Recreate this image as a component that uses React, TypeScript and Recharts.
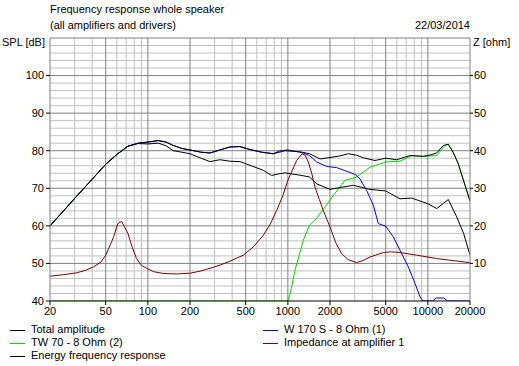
import React from "react";
import {
  LineChart,
  Line,
  XAxis,
  YAxis,
  ReferenceLine,
} from "recharts";

// frequency axis (Hz)
const freqTicks = [20, 50, 100, 200, 500, 1000, 2000, 5000, 10000, 20000];
const freqMinor = [30, 40, 60, 70, 80, 90, 300, 400, 600, 700, 800, 900, 3000, 4000, 6000, 7000, 8000, 9000];
const splTicks = [40, 50, 60, 70, 80, 90, 100];
const splMinor = [42, 44, 46, 48, 52, 54, 56, 58, 62, 64, 66, 68, 72, 74, 76, 78, 82, 84, 86, 88, 92, 94, 96, 98, 102, 104, 106, 108];
const ohmTicks = [10, 20, 30, 40, 50, 60];

// Total amplitude (dB)
const totalFreq = [20, 25, 30, 40, 50, 60, 72, 85, 100, 119, 135, 152, 175, 200, 240, 278, 327, 386, 455, 537, 650, 787, 955, 1222, 1429, 1697, 2000, 2350, 2704, 3100, 3459, 4190, 5000, 5990, 7450, 9290, 10500, 11560, 12900, 14000, 15200, 16500, 18000, 20000];
const totalDb = [60, 64, 67.3, 72.4, 76.4, 79, 81.2, 82, 82.3, 82.7, 82.3, 81.4, 80.6, 80.2, 79.6, 79.4, 80.2, 81, 81.1, 80.3, 79.6, 79.2, 80, 79.7, 79.2, 77.8, 78.2, 78.6, 79.2, 78.8, 78.1, 77.4, 78, 77.6, 78.7, 78.5, 78.9, 79.4, 81.4, 81.7, 79.5, 76.5, 72, 66.6];

// Energy frequency response (dB)
const energyFreq = [20, 25, 30, 40, 50, 60, 72, 85, 100, 119, 135, 152, 175, 200, 240, 278, 327, 386, 455, 537, 668, 766, 850, 955, 1260, 1429, 1607, 2000, 2357, 2936, 3860, 5000, 6325, 7660, 10000, 11560, 14000, 16070, 18000, 20000];
const energyDb = [60, 64, 67.3, 72.4, 76.4, 79, 81.2, 81.9, 81.8, 82, 81.3, 80, 79.6, 79.2, 78, 77.1, 77.6, 77.2, 77.1, 76.1, 74.8, 73.4, 73.8, 74.1, 73.4, 73, 71.2, 69.7, 70.2, 70.8, 69.7, 69.3, 67.2, 67.4, 65.9, 64.6, 67, 62.4, 58, 52.2];

// W 170 S - 8 Ohm (1) (dB)
const wooferFreq = [20, 25, 30, 40, 50, 60, 72, 85, 100, 119, 135, 152, 175, 200, 240, 278, 327, 386, 455, 537, 650, 787, 879, 1000, 1265, 1429, 1607, 1900, 2233, 2558, 3020, 3277, 3655, 4080, 4430, 5000, 5660, 6325, 7250, 8090, 8800, 9200, 10800, 11500, 13000, 13800, 20000];
const wooferDb = [60, 64, 67.3, 72.4, 76.4, 79, 81.2, 82, 82.3, 82.7, 82.3, 81.4, 80.6, 80.2, 79.6, 79.4, 80.2, 81, 81.1, 80.3, 79.6, 79.2, 80, 80.2, 79.5, 78.7, 77, 75.8, 75.5, 74.7, 73.7, 72.5, 69.4, 65.5, 60.6, 59.9, 57.1, 53.5, 49.1, 44.7, 41.1, 40, 40, 40.8, 40.8, 40, 40];

// TW 70 - 8 Ohm (2) (dB)
const tweeterFreq = [20, 1000, 1040, 1125, 1290, 1429, 1607, 1842, 2113, 2558, 3100, 3860, 5000, 6325, 7660, 9290, 11560, 13250, 14000, 15200, 16500, 18000, 20000];
const tweeterDb = [40, 40, 42, 48.2, 56.2, 60.2, 62, 65, 68.1, 72.1, 73, 75.6, 77, 77.2, 78.7, 78.5, 78.7, 81.4, 81.7, 79.5, 76.5, 72, 66.6];

// Impedance at amplifier 1 (ohm)
const impFreq = [20, 25, 31, 36, 41, 46, 50, 54, 57, 61, 65, 68, 72, 77, 83, 90, 98, 110, 130, 160, 200, 240, 278, 330, 386, 481, 570, 668, 750, 832, 920, 1000, 1156, 1265, 1330, 1400, 1480, 1563, 1680, 1791, 2000, 2200, 2421, 2700, 3100, 3450, 3860, 4810, 5500, 6325, 8320, 11560, 20000];
const impOhm = [6.6, 7, 7.5, 8.2, 9.1, 10.3, 12.2, 15, 17.1, 20.6, 21.2, 19.8, 18, 14.5, 11.3, 9.5, 8.7, 7.8, 7.3, 7.2, 7.4, 8, 8.7, 9.6, 10.6, 12.2, 14.5, 17.5, 20.5, 24.1, 28, 32.1, 37.4, 39.2, 38.8, 37, 34, 30.3, 27, 24.1, 19.7, 15.5, 12.6, 11, 10.2, 10.8, 11.7, 12.9, 13.1, 12.9, 12.2, 11.3, 10.2];

const toData = (fs: number[], vs: number[]) => fs.map((f, i) => ({ f, v: vs[i] }));

const FONT = '"Liberation Sans", Arial, sans-serif';
const txt: React.CSSProperties = {
  position: "absolute",
  fontFamily: FONT,
  fontSize: 11,
  lineHeight: "13px",
  color: "#000",
  whiteSpace: "nowrap",
};

const legendLeft = [
  { name: "Total amplitude", color: "#000000" },
  { name: "TW 70 - 8 Ohm (2)", color: "#00dd00" },
  { name: "Energy frequency response", color: "#000000" },
];
const legendRight = [
  { name: "W 170 S - 8 Ohm (1)", color: "#0000ff" },
  { name: "Impedance at amplifier 1", color: "#800000" },
];

const tickStyle = { fontFamily: FONT, fontSize: 11, fill: "#000" };

export default function App() {
  return (
    <div style={{ position: "absolute", left: 0, top: 0, width: 519, height: 366, background: "#fff" }}>
      <LineChart width={519} height={366} margin={{ top: 38, right: 0, left: 0, bottom: 45 }}>
        <XAxis
          dataKey="f"
          type="number"
          scale="log"
          domain={[20, 20000]}
          ticks={freqTicks}
          allowDataOverflow
          height={20}
          tickSize={4}
          tickMargin={2}
          tick={tickStyle}
          axisLine={{ stroke: "#000" }}
          tickLine={{ stroke: "#000" }}
          interval={0}
        />
        <YAxis
          yAxisId="spl"
          orientation="left"
          type="number"
          domain={[40, 110]}
          ticks={splTicks}
          allowDataOverflow
          width={50}
          tickSize={4}
          tickMargin={2}
          tick={tickStyle}
          axisLine={{ stroke: "#808080" }}
          tickLine={{ stroke: "#000" }}
          interval={0}
        />
        <YAxis
          yAxisId="ohm"
          orientation="right"
          type="number"
          domain={[0, 70]}
          ticks={ohmTicks}
          allowDataOverflow
          width={49}
          tickSize={3}
          tickMargin={1}
          tick={tickStyle}
          axisLine={{ stroke: "#808080" }}
          tickLine={{ stroke: "#000" }}
          interval={0}
        />
        {splMinor.map((y) => (
          <ReferenceLine key={"hm" + y} yAxisId="spl" y={y} stroke="#c0c0c0" />
        ))}
        {freqMinor.map((x) => (
          <ReferenceLine key={"vm" + x} yAxisId="spl" x={x} stroke="#c0c0c0" />
        ))}
        {splTicks.slice(1).map((y) => (
          <ReferenceLine key={"hM" + y} yAxisId="spl" y={y} stroke="#808080" />
        ))}
        <ReferenceLine yAxisId="spl" y={110} stroke="#808080" />
        {freqTicks.slice(1, -1).map((x) => (
          <ReferenceLine key={"vM" + x} yAxisId="spl" x={x} stroke="#808080" />
        ))}
        <Line yAxisId="spl" data={toData(tweeterFreq, tweeterDb)} dataKey="v" stroke="#00dd00" dot={false} isAnimationActive={false} strokeWidth={1} />
        <Line yAxisId="spl" data={toData(wooferFreq, wooferDb)} dataKey="v" stroke="#0000ff" dot={false} isAnimationActive={false} strokeWidth={1} />
        <Line yAxisId="spl" data={toData(energyFreq, energyDb)} dataKey="v" stroke="#000" dot={false} isAnimationActive={false} strokeWidth={1} />
        <Line yAxisId="spl" data={toData(totalFreq, totalDb)} dataKey="v" stroke="#000" dot={false} isAnimationActive={false} strokeWidth={1} />
        <Line yAxisId="ohm" data={toData(impFreq, impOhm)} dataKey="v" stroke="#800000" dot={false} isAnimationActive={false} strokeWidth={1} />
      </LineChart>

      <div style={{ ...txt, left: 50, top: 3 }}>Frequency response whole speaker</div>
      <div style={{ ...txt, left: 50, top: 19 }}>(all amplifiers and drivers)</div>
      <div style={{ ...txt, right: 49, top: 19 }}>22/03/2014</div>
      <div style={{ ...txt, left: 2, top: 36 }}>SPL [dB]</div>
      <div style={{ ...txt, left: 473, top: 36 }}>Z [ohm]</div>

      {legendLeft.map((l, i) => (
        <div key={l.name} style={{ ...txt, left: 10, top: 323 + i * 13 }}>
          <span style={{ display: "inline-block", width: 15, height: 1, background: l.color, verticalAlign: "middle", marginRight: 6 }} />
          {l.name}
        </div>
      ))}
      {legendRight.map((l, i) => (
        <div key={l.name} style={{ ...txt, left: 263, top: 323 + i * 13 }}>
          <span style={{ display: "inline-block", width: 15, height: 1, background: l.color, verticalAlign: "middle", marginRight: 6 }} />
          {l.name}
        </div>
      ))}
    </div>
  );
}
